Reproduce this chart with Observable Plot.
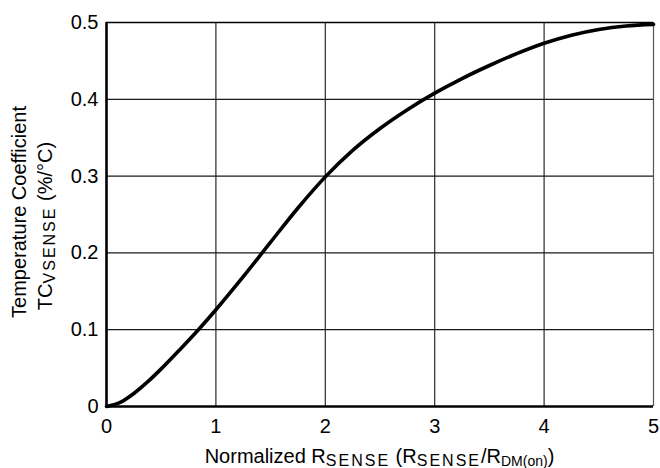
<!DOCTYPE html>
<html>
<head>
<meta charset="utf-8">
<script src="https://cdn.jsdelivr.net/npm/d3@7"></script>
<script src="https://cdn.jsdelivr.net/npm/@observablehq/plot@0.6"></script>
<style>
  html, body { margin: 0; padding: 0; background: #fff; }
  #chart svg { display: block; }
</style>
</head>
<body>
<div id="chart"></div>
<script>
// Curve values
const rsense = [0, 0.12, 0.25, 0.375, 0.5, 0.67, 0.84, 1.0, 1.25, 1.5, 1.75, 2.0, 2.25, 2.5, 2.75, 3.0, 3.25, 3.5, 3.75, 4.0, 4.25, 4.5, 4.75, 5.0];
const tc     = [0, 0.005, 0.017, 0.032, 0.049, 0.074, 0.1, 0.126, 0.169, 0.214, 0.2585, 0.299, 0.3335, 0.362, 0.3865, 0.408, 0.427, 0.444, 0.4595, 0.473, 0.4835, 0.491, 0.4955, 0.4975];

const xTicks = [0, 1, 2, 3, 4, 5];
const xTickLabels = ["0", "1", "2", "3", "4", "5"];
const yTicks = [0, 0.1, 0.2, 0.3, 0.4, 0.5];
const yTickLabels = ["0", "0.1", "0.2", "0.3", "0.4", "0.5"];

const data = rsense.map((x, i) => ({x, y: tc[i]}));

const W = 660, H = 468;
const mL = 106, mR = 7, mT = 22, mB = 62;
const FONT = "'Liberation Sans', Arial, Helvetica, sans-serif";

const chart = Plot.plot({
  width: W,
  height: H,
  marginLeft: mL,
  marginRight: mR,
  marginTop: mT,
  marginBottom: mB,
  style: {fontFamily: FONT, fontSize: "20px", color: "black", background: "white"},
  x: {domain: [0, 5]},
  y: {domain: [0, 0.5]},
  marks: [
    Plot.gridX(xTicks.slice(1, -1), {stroke: "#2a2a2a", strokeOpacity: 1, strokeWidth: 1.2}),
    Plot.gridY(yTicks.slice(1, -1), {stroke: "#1a1a1a", strokeOpacity: 1, strokeWidth: 1.2}),
    Plot.ruleX([5], {stroke: "#555", strokeWidth: 1.2}),
    Plot.ruleY([0.5], {stroke: "#000", strokeWidth: 1.6}),
    Plot.axisX(xTicks, {tickSize: 0, tickPadding: 12, label: null, fontSize: 20,
      tickFormat: (d) => xTickLabels[xTicks.indexOf(d)]}),
    Plot.axisY(yTicks, {tickSize: 0, tickPadding: 8, label: null, fontSize: 20,
      tickFormat: (d) => yTickLabels[yTicks.indexOf(d)]}),
    Plot.line(data, {x: "x", y: "y", curve: "monotone-x", stroke: "#000", strokeWidth: 3.6, strokeLinecap: "round"}),
    Plot.ruleX([0], {stroke: "#000", strokeWidth: 2.6}),
    Plot.ruleY([0], {stroke: "#000", strokeWidth: 2.6})
  ]
});

document.getElementById("chart").appendChild(chart);

// Axis titles with subscripts
const svg = d3.select(chart);
const cx = mL + (W - mL - mR) / 2;

function addParts(textSel, parts) {
  let shift = 0;
  parts.forEach(p => {
    const t = textSel.append("tspan").text(p.t);
    const target = p.sub ? 3 : 0;
    if (target !== shift) { t.attr("dy", target - shift); shift = target; }
    if (p.sub) {
      t.attr("font-size", p.size || 16);
      if (p.ls) t.attr("letter-spacing", p.ls);
    }
  });
}

const xl = svg.append("text")
  .attr("x", cx).attr("y", 463)
  .attr("text-anchor", "middle")
  .attr("font-family", FONT).attr("font-size", 20).attr("fill", "#000");
addParts(xl, [
  {t: "Normalized R"}, {t: "SENSE", sub: true, ls: 2},
  {t: " (R"}, {t: "SENSE", sub: true, ls: 2},
  {t: "/R"}, {t: "DM(on)", sub: true, size: 14},
  {t: ")"}
]);

svg.append("text")
  .attr("transform", `translate(26,212) rotate(-90)`)
  .attr("text-anchor", "middle")
  .attr("font-family", FONT).attr("font-size", 20).attr("fill", "#000")
  .text("Temperature Coefficient");

const yl2 = svg.append("text")
  .attr("transform", `translate(51.5,226) rotate(-90)`)
  .attr("text-anchor", "middle")
  .attr("font-family", FONT).attr("font-size", 20).attr("fill", "#000");
addParts(yl2, [
  {t: "TC"}, {t: "VSENSE", sub: true, ls: 2},
  {t: " (%/°C)"}
]);
</script>
</body>
</html>
